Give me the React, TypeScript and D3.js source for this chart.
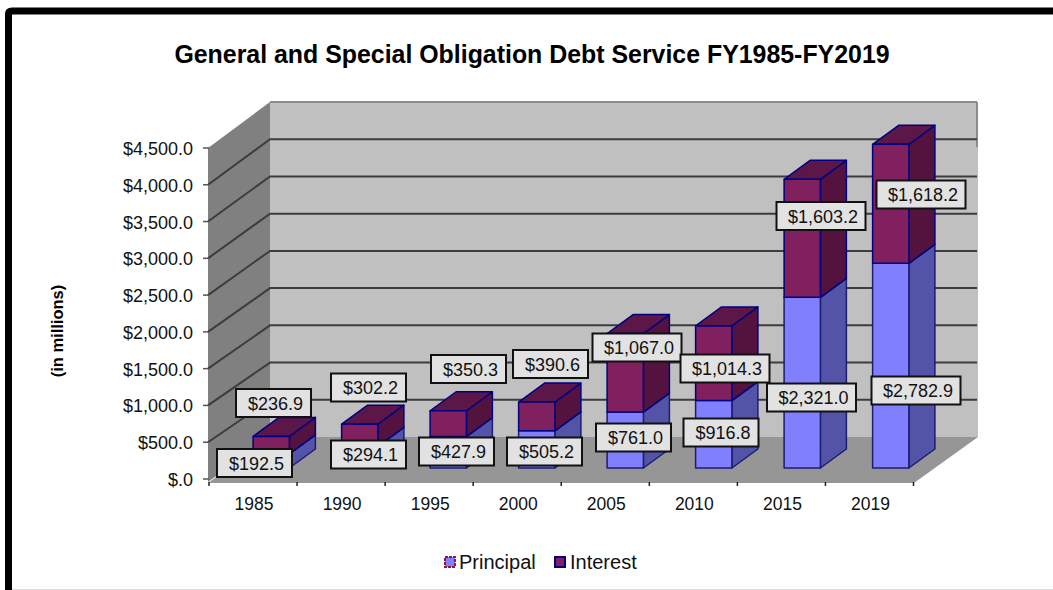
import React from "react";
import * as d3 from "d3";

// Debt service, in millions of dollars
const fiscalYears = ["1985", "1990", "1995", "2000", "2005", "2010", "2015", "2019"];
const principal = [192.5, 294.1, 427.9, 505.2, 761.0, 916.8, 2321.0, 2782.9];
const interest = [236.9, 302.2, 350.3, 390.6, 1067.0, 1014.3, 1603.2, 1618.2];
const axisTicks = [0, 500, 1000, 1500, 2000, 2500, 3000, 3500, 4000, 4500];

// Hand-placed callout centres, one pair per fiscal year
const principalCallouts = [[254.5, 463], [368.5, 454.5], [456.5, 451.5], [544.5, 451.5], [633.5, 437.5], [721, 432.5], [811.5, 397.5], [916, 390.5]];
const interestCallouts = [[273.5, 403], [368.5, 387.5], [468.5, 369], [550.5, 364], [637, 347.5], [725, 368.5], [821, 216], [921, 194.5]];

const FONT = "'Liberation Sans', Arial, sans-serif";
const NAVY = "#000080";
const GRID = "#3c3c3c";

// Projection offsets of the 3D box: front plane to back wall
const WALL_DX = 62;
const BAR_DX = 26;
const BAR_DY = 19;

const PRINCIPAL_COLORS = { front: "#8080ff", side: "#5353a8", top: "#5a5ab0", stroke: "#1c1c70" };
const INTEREST_COLORS = { front: "#80205f", side: "#54133f", top: "#5c1748", stroke: NAVY };

const money = d3.format("$,.1f");
const tickText = (v: number) => (v === 0 ? "$.0" : money(v));

const xTicks = d3.scaleLinear().domain([0, fiscalYears.length]).range([209, 913.5]);
const xBars = d3.scaleBand<string>().domain(fiscalYears).range([209.5, 917.5]).paddingInner(0.59).paddingOuter(0.295);
const yFront = d3.scaleLinear().domain([0, 4500]).range([479, 148]);
const yBack = d3.scaleLinear().domain([0, 4500]).range([437, 102]);
const yBar = d3.scaleLinear().domain([0, 4500]).range([468, 468 - 331]);

const BAR_SHIFT = 17.5;
const pts = (p: number[][]) => p.map((q) => q.join(",")).join(" ");

function Box({ x, w, base, top, c }: { x: number; w: number; base: number; top: number; c: typeof PRINCIPAL_COLORS }) {
  const r = x + w;
  return (
    <g stroke={c.stroke} strokeWidth={1.5} strokeLinejoin="round">
      <polygon points={pts([[r, top], [r + BAR_DX, top - BAR_DY], [r + BAR_DX, base - BAR_DY], [r, base]])} fill={c.side} />
      <polygon points={pts([[x, top], [x + BAR_DX, top - BAR_DY], [r + BAR_DX, top - BAR_DY], [r, top]])} fill={c.top} />
      <rect x={x} y={top} width={w} height={base - top} fill={c.front} />
    </g>
  );
}

function Callout({ value, at }: { value: number; at: number[] }) {
  const text = money(value);
  const w = text.length > 6 ? 89 : 75;
  return (
    <g>
      <rect x={at[0] - w / 2} y={at[1] - 14} width={w} height={28} fill="#e2e2e2" stroke="#111" strokeWidth={2} />
      <text x={at[0] + 2} y={at[1] + 6.5} textAnchor="middle" fontSize={18} fill="#111">{text}</text>
    </g>
  );
}

export default function App() {
  const bw = xBars.bandwidth();
  return (
    <svg
      width={1053}
      height={590}
      viewBox="0 0 1053 590"
      style={{ position: "fixed", left: 0, top: 0, fontFamily: FONT, background: "#fff" }}
    >
      {/* chart frame, open on the right */}
      <path d="M1053 11 H12 Q8.5 11 8.5 14 V590" fill="none" stroke="#000" strokeWidth={7} />
      <line x1={12} y1={589.5} x2={1053} y2={589.5} stroke="#ddd" strokeWidth={1} />

      <text x={532} y={63} textAnchor="middle" fontSize={24.9} fontWeight="bold" fill="#000">
        General and Special Obligation Debt Service FY1985-FY2019
      </text>
      <text transform="translate(63,331) rotate(-90)" textAnchor="middle" fontSize={16.5} fontWeight="bold" fill="#000">
        (in millions)
      </text>

      {/* walls and floor */}
      <rect x={270} y={yBack(4500)} width={708} height={yBack(0) - yBack(4500)} fill="#c0c0c0" />
      <line x1={270} y1={yBack(4500)} x2={977} y2={yBack(4500)} stroke="#8c8c8c" strokeWidth={2} />
      <line x1={977} y1={yBack(4500)} x2={977} y2={147} stroke="#8c8c8c" strokeWidth={2} />
      <polygon
        points={pts([[208, yFront(4500)], [270, yBack(4500)], [270, yBack(0)], [208, yFront(0) + 3]])}
        fill="#808080"
      />
      <polygon points={pts([[270, yBack(0)], [978, yBack(0)], [914, 483], [208, 483]])} fill="#969696" />

      {/* gridlines run along the side wall and the back wall */}
      {axisTicks.filter((t) => t > 0 && t < 4500).map((t) => (
        <polyline
          key={t}
          points={pts([[208, yFront(t)], [208 + WALL_DX, yBack(t)], [977, yBack(t)]])}
          fill="none"
          stroke={GRID}
          strokeWidth={2}
        />
      ))}

      {/* value axis */}
      {axisTicks.map((t) => (
        <g key={t}>
          <line x1={203} x2={209} y1={yFront(t)} y2={yFront(t)} stroke="#555" strokeWidth={1.5} />
          <text x={193} y={yFront(t) + 7} textAnchor="end" fontSize={18} fill="#111">{tickText(t)}</text>
        </g>
      ))}

      {/* category axis */}
      {d3.range(fiscalYears.length + 1).map((i) => (
        <line key={i} x1={xTicks(i)} x2={xTicks(i)} y1={482} y2={486} stroke="#222" strokeWidth={1.5} />
      ))}
      {fiscalYears.map((y, i) => (
        <text key={y} x={xTicks(i + 0.5) + 1} y={510} textAnchor="middle" fontSize={17.5} fill="#111">{y}</text>
      ))}

      {/* stacked boxes */}
      {fiscalYears.map((y, i) => {
        const x = (xBars(y) as number) + BAR_SHIFT;
        const p = principal[i];
        return (
          <g key={y}>
            <Box x={x} w={bw} base={yBar(0)} top={yBar(p)} c={PRINCIPAL_COLORS} />
            <Box x={x} w={bw} base={yBar(p)} top={yBar(p + interest[i])} c={INTEREST_COLORS} />
          </g>
        );
      })}

      {/* value callouts */}
      {fiscalYears.map((y, i) => (
        <Callout key={y} value={interest[i]} at={interestCallouts[i]} />
      ))}
      {fiscalYears.map((y, i) => (
        <Callout key={y} value={principal[i]} at={principalCallouts[i]} />
      ))}

      {/* legend */}
      <rect x={445} y={557} width={10} height={10} fill="#8080ff" stroke="#8c1a3c" strokeWidth={2} strokeDasharray="3 1" />
      <text x={459} y={569} fontSize={20} fill="#111">Principal</text>
      <rect x={555} y={557} width={10} height={10} fill="#80205f" stroke={NAVY} strokeWidth={2} />
      <text x={570} y={569} fontSize={20} fill="#111">Interest</text>
    </svg>
  );
}
